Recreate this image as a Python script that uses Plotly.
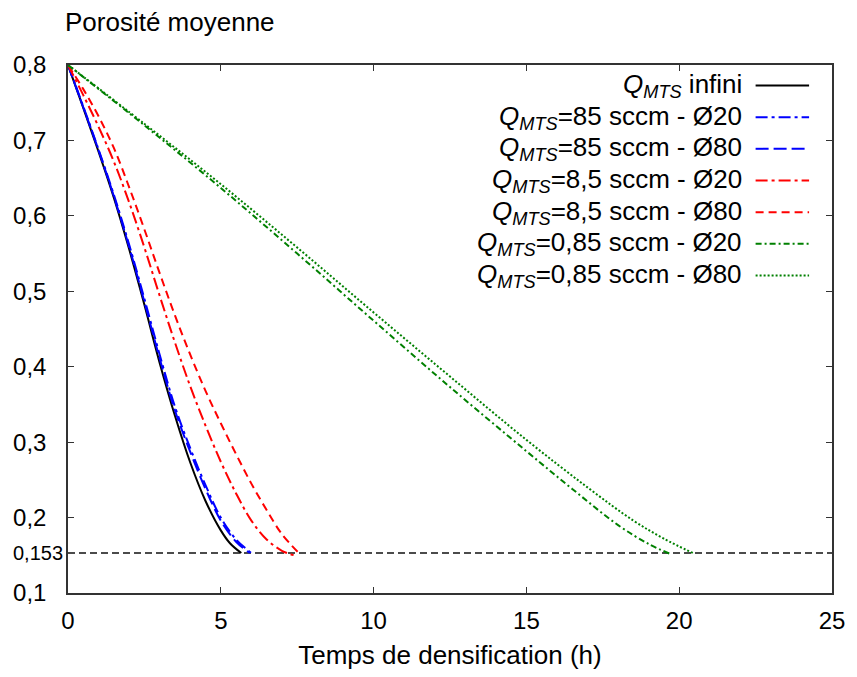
import plotly.graph_objects as go

# ---- data ----
x_inf = [0, 0.5, 1.0, 1.5, 2.0, 2.5, 3.0, 3.5, 4.0, 4.5, 5.0, 5.3, 5.67]
y_inf = [0.8, 0.743, 0.685, 0.624, 0.556, 0.482, 0.405, 0.335, 0.273, 0.222, 0.183, 0.166, 0.153]

x_85_20 = [0, 0.5, 1.0, 1.5, 2.0, 2.5, 3.0, 3.5, 4.0, 4.5, 5.0, 5.5, 6.0]
y_85_20 = [0.8, 0.745, 0.688, 0.628, 0.562, 0.49, 0.416, 0.347, 0.292, 0.243, 0.2, 0.171, 0.153]

x_85_80 = [0, 0.5, 1.0, 1.5, 2.0, 2.5, 3.0, 3.5, 4.0, 4.5, 5.0, 5.5, 5.95]
y_85_80 = [0.8, 0.744, 0.687, 0.626, 0.559, 0.486, 0.411, 0.342, 0.287, 0.238, 0.196, 0.168, 0.153]

x_8_20 = [0, 0.5, 1.0, 1.5, 2.0, 2.5, 3.0, 3.5, 4.0, 4.5, 5.0, 5.5, 6.0, 6.5, 7.0, 7.4]
y_8_20 = [0.8, 0.76, 0.718, 0.672, 0.618, 0.558, 0.494, 0.432, 0.374, 0.322, 0.274, 0.232, 0.196, 0.171, 0.156, 0.15]

x_8_80 = [0, 0.5, 1.0, 1.5, 2.0, 2.5, 3.0, 3.5, 4.0, 4.5, 5.0, 5.5, 6.0, 6.5, 7.0, 7.58]
y_8_80 = [0.8, 0.768, 0.732, 0.69, 0.638, 0.582, 0.524, 0.468, 0.416, 0.368, 0.325, 0.284, 0.245, 0.21, 0.178, 0.152]

x_085_20 = [0, 2.5, 5.0, 7.5, 10.0, 12.5, 15.0, 16.5, 18.0, 19.0, 19.7]
y_085_20 = [0.8, 0.72, 0.637, 0.55, 0.461, 0.373, 0.288, 0.238, 0.19, 0.165, 0.152]

x_085_80 = [0, 2.5, 5.0, 7.5, 10.0, 12.5, 15.0, 17.0, 18.5, 19.5, 20.45]
y_085_80 = [0.8, 0.722, 0.642, 0.558, 0.472, 0.387, 0.303, 0.24, 0.196, 0.172, 0.153]

x_ref = [0, 25]
y_ref = [0.153, 0.153]

y_ticks = [0.1, 0.2, 0.3, 0.4, 0.5, 0.6, 0.7, 0.8]
y_ticklabels = ["0,1", "0,2", "0,3", "0,4", "0,5", "0,6", "0,7", "0,8"]
x_ticks = [0, 5, 10, 15, 20, 25]

series = [
    ("<i>Q<sub>MTS</sub></i> infini", x_inf, y_inf, "black", "solid"),
    ("<i>Q<sub>MTS</sub></i>=85 sccm - Ø20", x_85_20, y_85_20, "#0000ff", "12px,4px,3px,4px"),
    ("<i>Q<sub>MTS</sub></i>=85 sccm - Ø80", x_85_80, y_85_80, "#0000ff", "13px,5px"),
    ("<i>Q<sub>MTS</sub></i>=8,5 sccm - Ø20", x_8_20, y_8_20, "#ff0000", "12px,4px,3px,4px"),
    ("<i>Q<sub>MTS</sub></i>=8,5 sccm - Ø80", x_8_80, y_8_80, "#ff0000", "8px,5px"),
    ("<i>Q<sub>MTS</sub></i>=0,85 sccm - Ø20", x_085_20, y_085_20, "#008000", "6px,3px,2px,3px"),
    ("<i>Q<sub>MTS</sub></i>=0,85 sccm - Ø80", x_085_80, y_085_80, "#008000", "2px,2px"),
]

FONT = "Liberation Sans, Arial, sans-serif"

fig = go.Figure()
fig.add_trace(go.Scatter(x=x_ref, y=y_ref, mode="lines",
                         line=dict(color="#111", width=1.3, dash="7px,4px"),
                         showlegend=False, hoverinfo="skip"))
for name, xs, ys, col, dash in series:
    fig.add_trace(go.Scatter(x=xs, y=ys, mode="lines", name=name,
                             line=dict(color=col, width=2, dash=dash, shape="spline", smoothing=1.0),
                             showlegend=False))

# custom legend (text left of sample line, as in the reference)
row_y = [0.9612, 0.9012, 0.8413, 0.7812, 0.7212, 0.6613, 0.6013]
for (name, xs, ys, col, dash), ry in zip(series, row_y):
    fig.add_annotation(x=0.883, y=ry, xref="paper", yref="paper", text=name,
                       showarrow=False, xanchor="right", yanchor="middle",
                       height=29, valign="middle", borderpad=0,
                       font=dict(family=FONT, size=26, color="black"))
    fig.add_shape(type="line", xref="paper", yref="paper", x0=0.900, x1=0.970,
                  y0=ry, y1=ry, line=dict(color=col, width=2, dash=dash))

fig.add_annotation(x=-0.004, y=0.153, xref="paper", yref="y", text="0,153",
                   showarrow=False, xanchor="right", yanchor="middle",
                   font=dict(family=FONT, size=20, color="black"))
fig.add_annotation(x=-0.006, y=1.082, xref="paper", yref="paper", text="Porosité moyenne",
                   showarrow=False, xanchor="left", yanchor="middle",
                   font=dict(family=FONT, size=26, color="black"))

fig.update_layout(
    width=857, height=677,
    margin=dict(l=68, r=17, t=65, b=84),
    paper_bgcolor="white", plot_bgcolor="white",
    font=dict(family=FONT, size=24, color="black"),
    showlegend=False,
)
fig.update_xaxes(range=[0, 25], tickvals=x_ticks, ticks="inside", ticklen=6,
                 tickcolor="#333", showline=True, linecolor="#333", linewidth=1.5,
                 mirror="allticks", showgrid=False, zeroline=False,
                 ticklabelstandoff=5, tickfont=dict(size=24),
                 title=dict(text="Temps de densification (h)", font=dict(size=26), standoff=13))
fig.update_yaxes(range=[0.1, 0.8], tickvals=y_ticks, ticktext=y_ticklabels, ticks="inside",
                 ticklen=6, tickcolor="#333", showline=True, linecolor="#333", linewidth=1.5,
                 mirror="allticks", showgrid=False, zeroline=False, ticklabelstandoff=15,
                 tickfont=dict(size=24))

fig.write_html("out.html")
